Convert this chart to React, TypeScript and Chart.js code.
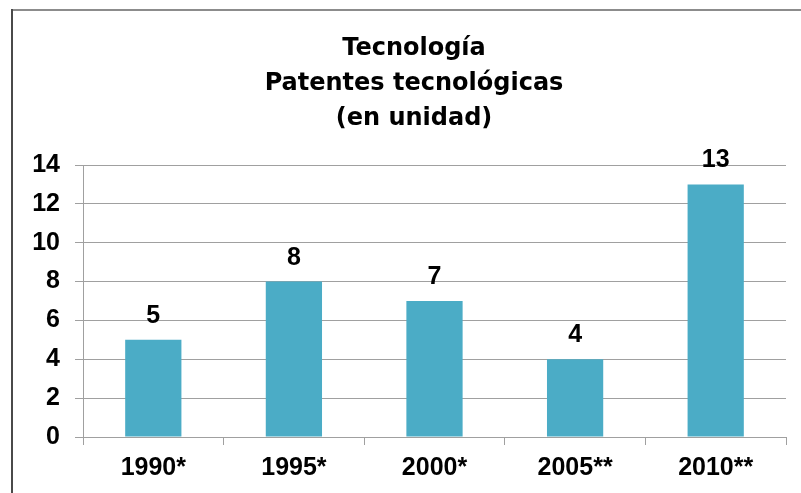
import React, { useEffect, useRef } from "react";
import { Chart, registerables } from "chart.js";

Chart.register(...registerables);

const categories = ["1990*", "1995*", "2000*", "2005**", "2010**"];
const patentes = [5, 8, 7, 4, 13];
const titleLines = ["Tecnología", "Patentes tecnológicas", "(en unidad)"];
const yTicks = [0, 2, 4, 6, 8, 10, 12, 14];

const framePlugin = {
  id: "frame",
  beforeDraw(chart: any) {
    const ctx = chart.ctx;
    ctx.save();
    ctx.fillStyle = "#ffffff";
    ctx.fillRect(0, 0, chart.width, chart.height);
    ctx.fillStyle = "#8c8c8c";
    ctx.fillRect(11, 9, chart.width - 11, 2);
    ctx.fillStyle = "#4a4a4a";
    ctx.fillRect(11, 9, 2, chart.height - 9);
    ctx.restore();
  },
};

const valueLabelPlugin = {
  id: "valueLabels",
  afterDatasetsDraw(chart: any) {
    const ctx = chart.ctx;
    const meta = chart.getDatasetMeta(0);
    ctx.save();
    ctx.font = "bold 25px 'Liberation Sans', Arial, sans-serif";
    ctx.fillStyle = "#000000";
    ctx.textAlign = "center";
    ctx.textBaseline = "alphabetic";
    meta.data.forEach((bar: any, i: number) => {
      ctx.fillText(String(chart.data.datasets[0].data[i]), bar.x, bar.y - 17);
    });
    ctx.restore();
  },
};

const tickFont = { family: "'Liberation Sans', Arial, sans-serif", size: 25, weight: "bold" as const };

export default function App() {
  const ref = useRef<HTMLCanvasElement>(null);
  useEffect(() => {
    if (!ref.current) return;
    const chart = new Chart(ref.current, {
      type: "bar",
      data: {
        labels: categories,
        datasets: [
          {
            data: patentes,
            backgroundColor: "#4BACC6",
            barPercentage: 0.4,
            categoryPercentage: 1,
          },
        ],
      },
      options: {
        responsive: false,
        animation: false,
        layout: { padding: { left: 32, right: 5, top: 11, bottom: 2 } },
        plugins: {
          legend: { display: false },
          tooltip: { enabled: false },
          title: {
            display: true,
            text: titleLines,
            color: "#000000",
            font: { family: "'DejaVu Sans', sans-serif", size: 24, weight: "bold", lineHeight: 35 / 24 },
            padding: { top: 20, bottom: 29 },
          },
        },
        scales: {
          x: {
            grid: {
              display: true,
              drawOnChartArea: false,
              drawTicks: true,
              tickLength: 8,
              color: "#a0a0a0",
              offset: true,
            },
            border: { color: "#a0a0a0", width: 1 },
            ticks: {
              color: "#000000",
              padding: 8,
              font: tickFont,
            },
          },
          y: {
            min: 0,
            max: 14,
            afterBuildTicks(scale: any) {
              scale.ticks = yTicks.map((v) => ({ value: v }));
            },
            afterFit(scale: any) {
              scale.width = 51;
            },
            grid: {
              color: "#a0a0a0",
              tickLength: 8,
            },
            border: { color: "#a0a0a0", width: 1 },
            ticks: {
              color: "#000000",
              padding: 15,
              font: tickFont,
            },
          },
          yRightSpacer: {
            position: "right",
            display: true,
            min: 0,
            max: 14,
            afterFit(scale: any) {
              scale.width = 10;
            },
            grid: { display: false },
            border: { display: false },
            ticks: { display: false },
          },
        },
      },
      plugins: [framePlugin, valueLabelPlugin],
    });
    return () => chart.destroy();
  }, []);
  return (
    <div style={{ position: "absolute", left: 0, top: 0, width: 801, height: 493, background: "#fff" }}>
      <canvas ref={ref} width={801} height={493} />
    </div>
  );
}
